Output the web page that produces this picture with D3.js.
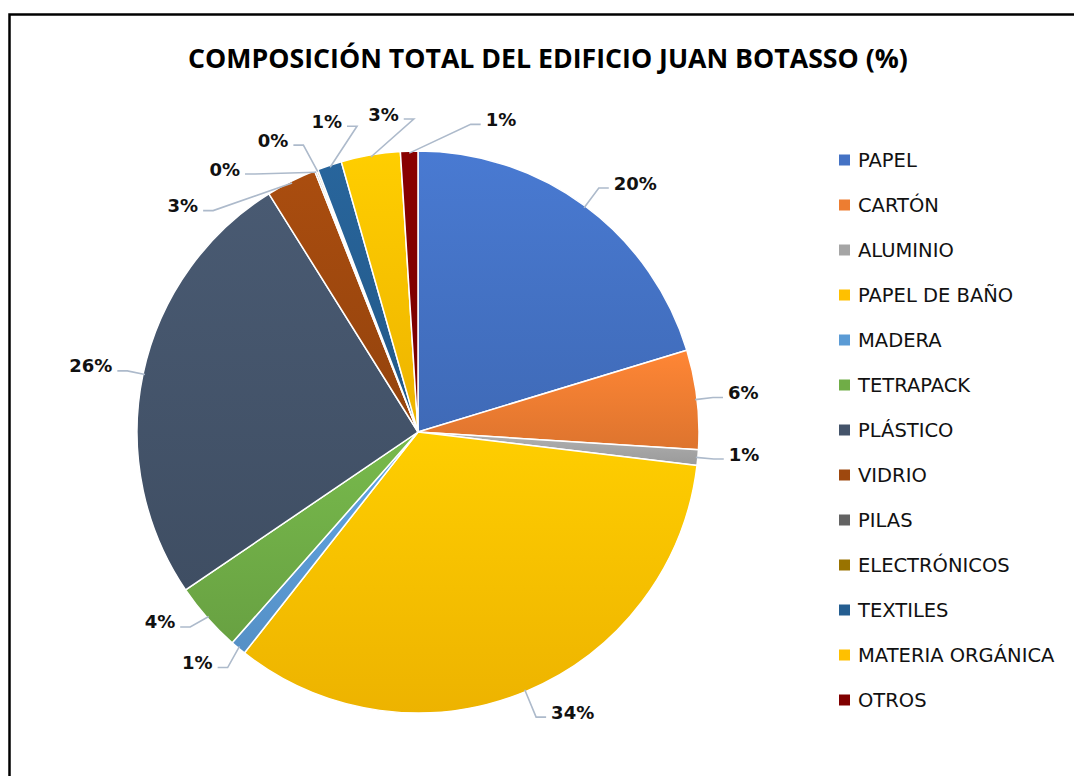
<!DOCTYPE html>
<html>
<head>
<meta charset="utf-8">
<script src="https://cdn.jsdelivr.net/npm/d3@7"></script>
<style>
  body { margin: 0; background: #fff; }
  svg { display: block; }
</style>
</head>
<body>
<div id="chart"></div>
<script>
// categories in the order Excel draws them (clockwise from 12 o'clock)
const categories = [
  "PAPEL", "CARTÓN", "ALUMINIO", "PAPEL DE BAÑO", "MADERA", "TETRAPACK",
  "PLÁSTICO", "VIDRIO", "PILAS", "ELECTRÓNICOS", "TEXTILES",
  "MATERIA ORGÁNICA", "OTROS"
];
// percentages
const values = [20.3, 5.7, 0.9, 33.7, 0.9, 4.0, 25.6, 2.9, 0.1, 0.1, 1.4, 3.4, 1.0];
const colors = [
  "#4472C4", "#ED7D31", "#A5A5A5", "#FFC000", "#5B9BD5", "#70AD47",
  "#44546A", "#9E480E", "#636363", "#997300", "#255E91", "#FFC000", "#800000"
];
const title = "COMPOSICIÓN TOTAL DEL EDIFICIO JUAN BOTASSO (%)";

const width = 1074, height = 776;
const cx = 418, cy = 432, radius = 281;

const data = categories.map((c, i) => ({ label: c, value: values[i], color: colors[i] }));

const svg = d3.select("#chart").append("svg")
  .attr("width", width)
  .attr("height", height);

// chart frame (right and bottom edges fall outside the picture)
svg.append("rect")
  .attr("x", 9.5).attr("y", 14.5)
  .attr("width", 1200).attr("height", 900)
  .attr("fill", "none")
  .attr("stroke", "#000")
  .attr("stroke-width", 2.5);

// title
const titleText = svg.append("text")
  .attr("x", 548).attr("y", 57)
  .attr("text-anchor", "middle")
  .attr("dominant-baseline", "central")
  .style("font-family", "'Open Sans', sans-serif")
  .style("font-weight", "bold")
  .style("font-size", "24px")
  .style("fill", "#000")
  .text(title);
// fit the title to the width it has in the reference
const tw = titleText.node().getComputedTextLength();
titleText.style("font-size", (24 * 720 / tw) + "px");

// gradients, lighter on top like the Excel style
const defs = svg.append("defs");
data.forEach((d, i) => {
  const g = defs.append("linearGradient")
    .attr("id", "grad" + i)
    .attr("x1", 0).attr("y1", 0).attr("x2", 0).attr("y2", 1);
  g.append("stop").attr("offset", "0%").attr("stop-color", d3.color(d.color).brighter(0.2));
  g.append("stop").attr("offset", "100%").attr("stop-color", d3.color(d.color).darker(0.2));
});

const pie = d3.pie().sort(null).value(d => d.value);
const arcs = pie(data);
const total = d3.sum(values);

const arc = d3.arc().innerRadius(0).outerRadius(radius);

const g = svg.append("g").attr("transform", `translate(${cx},${cy})`);

g.selectAll("path.slice")
  .data(arcs)
  .join("path")
  .attr("class", "slice")
  .attr("d", arc)
  .attr("fill", (d, i) => `url(#grad${i})`)
  .attr("stroke", "#fff")
  .attr("stroke-width", 1.5);

// label layout: start at mid angle, push neighbours apart until a minimum gap
const deg = 180 / Math.PI;
const minGap = 10.5;
const ang = arcs.map(d => (d.startAngle + d.endAngle) / 2 * deg);
for (let it = 0; it < 300; it++) {
  for (let i = 0; i < ang.length; i++) {
    const j = (i + 1) % ang.length;
    let diff = ang[j] - ang[i];
    if (j === 0) diff += 360;
    if (diff < minGap) {
      const push = (minGap - diff) / 2;
      ang[i] -= push;
      ang[j] += push;
    }
  }
}

const labels = arcs.map((d, i) => {
  const mid = (d.startAngle + d.endAngle) / 2;
  const a = ang[i] / deg;
  // labels near top/bottom sit a bit further out
  const elbowR = radius + 16 + 16 * Math.pow(Math.cos(a), 4);
  const start = [Math.sin(mid) * (radius - 2), -Math.cos(mid) * (radius - 2)];
  const elbow = [Math.sin(a) * elbowR, -Math.cos(a) * elbowR];
  const right = Math.sin(a) >= 0;
  const end = [elbow[0] + (right ? 10 : -10), elbow[1]];
  return { start, elbow, end, right, text: Math.round(d.data.value / total * 100) + "%" };
});

g.selectAll("polyline.leader")
  .data(labels)
  .join("polyline")
  .attr("class", "leader")
  .attr("points", d => [d.start, d.elbow, d.end].map(p => p.join(",")).join(" "))
  .attr("fill", "none")
  .attr("stroke", "#ADBACB")
  .attr("stroke-width", 1.6);

g.selectAll("text.pct")
  .data(labels)
  .join("text")
  .attr("class", "pct")
  .attr("x", d => d.end[0] + (d.right ? 5 : -5))
  .attr("y", d => d.end[1] - 5)
  .attr("text-anchor", d => d.right ? "start" : "end")
  .attr("dominant-baseline", "central")
  .style("font-family", "'DejaVu Sans', sans-serif")
  .style("font-weight", "bold")
  .style("font-size", "18px")
  .style("fill", "#111")
  .text(d => d.text);

// legend
const legendY = d3.scalePoint().domain(categories).range([160, 700]);
const legend = svg.append("g").selectAll("g")
  .data(data)
  .join("g")
  .attr("transform", d => `translate(839,${legendY(d.label)})`);

legend.append("rect")
  .attr("x", 0).attr("y", -5.5)
  .attr("width", 11).attr("height", 11)
  .attr("fill", d => d.color);

legend.append("text")
  .attr("x", 19).attr("y", 0)
  .attr("dominant-baseline", "central")
  .style("font-family", "'DejaVu Sans', sans-serif")
  .style("font-size", "19.5px")
  .style("fill", "#111")
  .text(d => d.label);
</script>
</body>
</html>
